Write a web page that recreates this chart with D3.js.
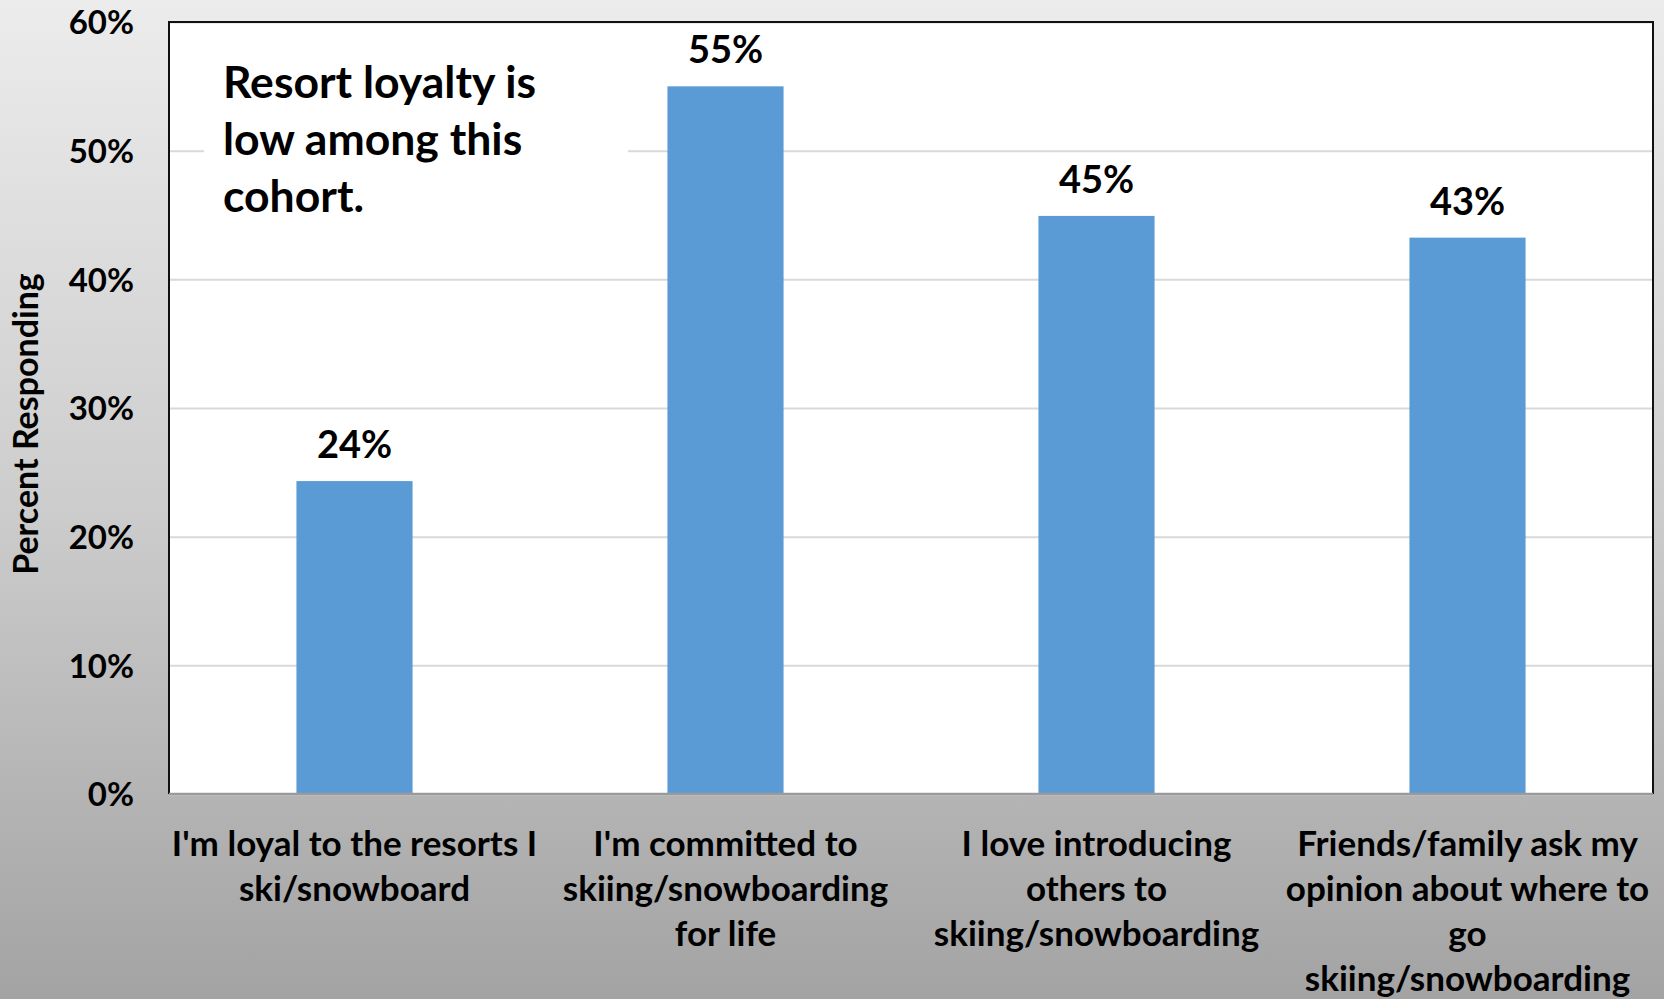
<!DOCTYPE html>
<html>
<head>
<meta charset="utf-8">
<script src="https://cdn.jsdelivr.net/npm/d3@7"></script>
<style>
  html, body { margin: 0; padding: 0; }
  svg { display: block; }
  text { font-family: Lato, "Open Sans", sans-serif; font-weight: 700; fill: #000; }
</style>
</head>
<body>
<svg id="chart" width="1664" height="999"></svg>
<script>
// Survey statements (each entry holds the wrapped lines of one label)
const categories = [
  ["I'm loyal to the resorts I", "ski/snowboard"],
  ["I'm committed to", "skiing/snowboarding", "for life"],
  ["I love introducing", "others to", "skiing/snowboarding"],
  ["Friends/family ask my", "opinion about where to", "go", "skiing/snowboarding"]
];
// Share of respondents agreeing with each statement
const values = [0.2432, 0.5500, 0.4493, 0.4324];
// Value axis ticks
const yTicks = [0, 0.1, 0.2, 0.3, 0.4, 0.5, 0.6];
const yTitle = "Percent Responding";
const note = ["Resort loyalty is", "low among this", "cohort."];

const W = 1664, H = 999;
const margin = { top: 22, right: 11, bottom: 205, left: 169 };
const iw = W - margin.left - margin.right;
const ih = H - margin.top - margin.bottom;

const svg = d3.select("#chart");

// Grey backdrop fading from light at the top to darker at the bottom
const defs = svg.append("defs");
const grad = defs.append("linearGradient")
  .attr("id", "bg").attr("x1", 0).attr("y1", 0).attr("x2", 0).attr("y2", 1);
grad.append("stop").attr("offset", "0%").attr("stop-color", "#ececec");
grad.append("stop").attr("offset", "50%").attr("stop-color", "#cdcdcd");
grad.append("stop").attr("offset", "100%").attr("stop-color", "#a3a3a3");
svg.append("rect").attr("width", W).attr("height", H).attr("fill", "url(#bg)");

const g = svg.append("g").attr("transform", `translate(${margin.left},${margin.top})`);

const x = d3.scaleBand()
  .domain(d3.range(categories.length))
  .range([0, iw])
  .paddingInner(0.687)
  .paddingOuter(0.3435);

const y = d3.scaleLinear().domain([0, 0.6]).range([ih, 0]);

// Plot area
g.append("rect").attr("width", iw).attr("height", ih).attr("fill", "#fff");

// Horizontal gridlines
const yAxis = d3.axisLeft(y).tickValues(yTicks).tickSize(-iw).tickFormat(d3.format(".0%"));
const ya = g.append("g").call(yAxis);
ya.select(".domain").remove();
ya.selectAll(".tick line").attr("stroke", "#d9d9d9").attr("stroke-width", 2);
ya.selectAll(".tick text")
  .attr("x", -35)
  .attr("font-size", 33)
  .attr("dy", "0.36em");

// Text box of the annotation, masking the gridline behind it
g.append("rect")
  .attr("x", 204 - margin.left).attr("y", 40)
  .attr("width", 424).attr("height", 180)
  .attr("fill", "#fff");
const noteText = g.append("text")
  .attr("x", 223 - margin.left)
  .attr("y", 76)
  .attr("font-size", 44.5);
noteText.selectAll("tspan").data(note).join("tspan")
  .attr("x", 223 - margin.left)
  .attr("dy", (d, i) => i === 0 ? 0 : 57)
  .text(d => d);

// Bars
const barX = i => x(i);
g.selectAll("rect.bar").data(values).join("rect")
  .attr("class", "bar")
  .attr("x", (d, i) => barX(i))
  .attr("y", d => y(d))
  .attr("width", x.bandwidth())
  .attr("height", d => ih - y(d))
  .attr("fill", "#5b9bd5");

// Value labels above bars
g.selectAll("text.val").data(values).join("text")
  .attr("class", "val")
  .attr("x", (d, i) => barX(i) + x.bandwidth() / 2)
  .attr("y", d => y(d) - 23)
  .attr("text-anchor", "middle")
  .attr("font-size", 38)
  .text(d => d3.format(".0%")(d));

// Plot frame: dark on three sides, grey category axis at the bottom
g.append("path")
  .attr("d", `M0,${ih}V0H${iw}V${ih}`)
  .attr("fill", "none").attr("stroke", "#111").attr("stroke-width", 2);
g.append("line")
  .attr("x1", 0).attr("x2", iw).attr("y1", ih).attr("y2", ih)
  .attr("stroke", "#9a9a9a").attr("stroke-width", 2.5);

// Category labels
const cat = g.selectAll("text.cat").data(categories).join("text")
  .attr("class", "cat")
  .attr("text-anchor", "middle")
  .attr("font-size", 35)
  .attr("transform", (d, i) => `translate(${barX(i) + x.bandwidth() / 2},${ih + 62})`);
cat.selectAll("tspan").data(d => d).join("tspan")
  .attr("x", 0)
  .attr("y", (d, i) => i * 45)
  .text(d => d);

// Axis title
svg.append("text")
  .attr("transform", `translate(38,424) rotate(-90)`)
  .attr("text-anchor", "middle")
  .attr("font-size", 34)
  .text(yTitle);
</script>
</body>
</html>
